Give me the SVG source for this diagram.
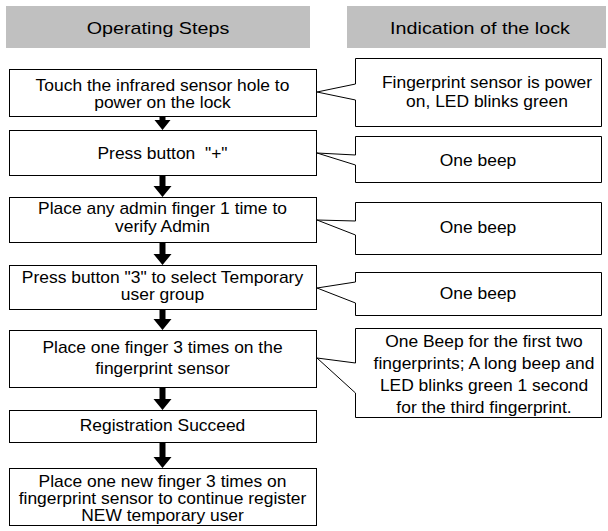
<svg xmlns="http://www.w3.org/2000/svg" width="608" height="531" viewBox="0 0 608 531">
<style>
text{font-family:"Liberation Sans",Arial,sans-serif;font-size:16px;fill:#000;text-anchor:middle}
.hdr{fill:#c0c0c0}
.hdrt{font-size:17px}
.box{fill:#fff;stroke:#000;stroke-width:1}
.arr{fill:#000}
</style>
<rect width="608" height="531" fill="#fff"/>
<g id="header-steps"><rect class="hdr" x="6" y="6" width="304" height="42"/><text class="hdrt" transform="translate(158,34) scale(1.16,1)">Operating Steps</text></g>
<g id="header-indication"><rect class="hdr" x="347" y="6" width="259" height="42"/><text class="hdrt" transform="translate(480,34) scale(1.16,1)">Indication of the lock</text></g>

<g id="step1"><rect class="box" x="9.5" y="69.5" width="307" height="47"/><text transform="translate(162.5,91) scale(1.09,1)">Touch the infrared sensor hole to</text><text transform="translate(162.5,108) scale(1.09,1)">power on the lock</text></g>
<g id="step2"><rect class="box" x="9.5" y="130.5" width="307" height="45"/><text transform="translate(162.5,159) scale(1.09,1)" xml:space="preserve">Press button  "+"</text></g>
<g id="step3"><rect class="box" x="9.5" y="197.5" width="307" height="45"/><text transform="translate(162.5,214) scale(1.09,1)">Place any admin finger 1 time to</text><text transform="translate(162.5,232) scale(1.09,1)">verify Admin</text></g>
<g id="step4"><rect class="box" x="9.5" y="265.5" width="307" height="44"/><text transform="translate(162.5,283) scale(1.09,1)">Press button "3" to select Temporary</text><text transform="translate(162.5,300) scale(1.09,1)">user group</text></g>
<g id="step5"><rect class="box" x="9.5" y="330.5" width="307" height="57"/><text transform="translate(162.5,353) scale(1.09,1)">Place one finger 3 times on the</text><text transform="translate(162.5,374) scale(1.09,1)">fingerprint sensor</text></g>
<g id="step6"><rect class="box" x="9.5" y="410.5" width="307" height="32"/><text transform="translate(162.5,431) scale(1.09,1)">Registration Succeed</text></g>
<g id="step7"><rect class="box" x="9.5" y="468.5" width="307" height="57"/><text transform="translate(162.5,487) scale(1.09,1)">Place one new finger 3 times on</text><text transform="translate(162.5,504) scale(1.09,1)">fingerprint sensor to continue register</text><text transform="translate(162.5,521) scale(1.09,1)">NEW temporary user</text></g>

<g id="ind1"><path class="box" d="M355.5,58.5 H601.5 V126.5 H355.5 V100 L317,92 L355.5,84 Z"/><text transform="translate(487,88) scale(1.09,1)">Fingerprint sensor is power</text><text transform="translate(487,107) scale(1.09,1)">on, LED blinks green</text></g>
<g id="ind2"><path class="box" d="M355.5,136.5 H601.5 V182.5 H355.5 V165 L317,153 L355.5,155 Z"/><text transform="translate(478,166) scale(1.09,1)">One beep</text></g>
<g id="ind3"><path class="box" d="M355.5,202.5 H601.5 V254.5 H355.5 V235 L317,220 L355.5,221 Z"/><text transform="translate(478,233) scale(1.09,1)">One beep</text></g>
<g id="ind4"><path class="box" d="M355.5,272.5 H601.5 V315.5 H355.5 V303 L317,288 L355.5,282 Z"/><text transform="translate(478,299) scale(1.09,1)">One beep</text></g>
<g id="ind5"><path class="box" d="M355.5,328.5 H601.5 V417.5 H355.5 V393 L317,358 L355.5,363 Z"/><text transform="translate(484,347) scale(1.09,1)">One Beep for the first two</text><text transform="translate(484,369) scale(1.09,1)">fingerprints; A long beep and</text><text transform="translate(484,391) scale(1.09,1)">LED blinks green 1 second</text><text transform="translate(484,413) scale(1.09,1)">for the third fingerprint.</text></g>

<g id="connectors">
<path class="arr" d="M159.5,116 h6 v4 h5 l-8,10 l-8,-10 h5 z"/>
<path class="arr" d="M159.5,175 h6 v11 h6 l-9,11 l-9,-11 h6 z"/>
<path class="arr" d="M159.5,242 h6 v12 h6 l-9,11 l-9,-11 h6 z"/>
<path class="arr" d="M159.5,309 h6 v10 h6 l-9,11 l-9,-11 h6 z"/>
<path class="arr" d="M159.5,387 h6 v12 h6 l-9,11 l-9,-11 h6 z"/>
<path class="arr" d="M159.5,442 h6 v15 h6 l-9,11 l-9,-11 h6 z"/>
</g>
</svg>
